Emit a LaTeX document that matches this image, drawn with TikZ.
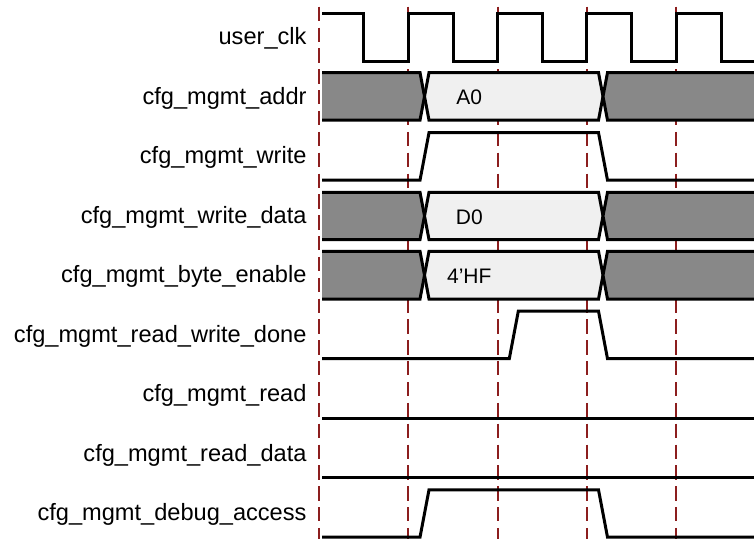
\documentclass[tikz,border=0pt]{standalone}
\usepackage{fontspec}
\setmainfont{Liberation Sans}
\definecolor{gridred}{RGB}{140,30,30}
\definecolor{busgray}{RGB}{136,136,136}
\definecolor{buslight}{RGB}{240,240,240}
\newcommand{\drawbus}[5]{%
  \pgfmathsetmacro\bmid{(#1+#2)/2}%
  \fill[busgray] (322,#1) -- (420,#1) -- (424.5,\bmid) -- (420,#2) -- (322,#2) -- cycle;
  \draw[busline] (322,#1) -- (420,#1) -- (424.5,\bmid) -- (420,#2) -- (322,#2);
  \filldraw[busline,fill=buslight] (429,#1) -- (598.5,#1) -- (603,\bmid) -- (598.5,#2) -- (429,#2) -- (424.5,\bmid) -- cycle;
  \fill[busgray] (754,#1) -- (607.5,#1) -- (603,\bmid) -- (607.5,#2) -- (754,#2) -- cycle;
  \draw[busline] (754,#1) -- (607.5,#1) -- (603,\bmid) -- (607.5,#2) -- (754,#2);
  \node[buslbl] (#5) at (469.3,{\bmid+8.3}) {#4};
}
\newcommand{\pulse}[4]{%
  \draw[wave] (322,#2) -- ({#3-4.5},#2) -- ({#3+4.5},#1) -- ({#4-4.5},#1) -- ({#4+4.5},#2) -- (754,#2);
}
\begin{document}
\begin{tikzpicture}[x=1pt,y=-1pt,
  siglbl/.style={anchor=base east,inner sep=0pt,font=\fontsize{23.6}{28}\selectfont},
  buslbl/.style={anchor=base,inner sep=0pt,font=\fontsize{21}{25}\selectfont},
  gridline/.style={draw=gridred,line width=1.8pt,dash pattern=on 14.3pt off 6.55pt},
  wave/.style={draw=black,line width=3pt,line join=miter},
  busline/.style={draw=black,line width=3pt,line join=miter,miter limit=2},
]
\useasboundingbox (0,0) rectangle (754,539);

% clock-edge guide lines
\foreach \gx in {319,408.3,497.8,586.8,676}
  \draw[gridline] (\gx,6.7) -- (\gx,539);

% signal names
\node[siglbl] (lclk)   at (306.7,44.95)  {user\_clk};
\node[siglbl] (laddr)  at (306.7,104.45) {cfg\_mgmt\_addr};
\node[siglbl] (lwr)    at (306.7,163.95) {cfg\_mgmt\_write};
\node[siglbl] (lwd)    at (306.7,223.45) {cfg\_mgmt\_write\_data};
\node[siglbl] (lbe)    at (306.7,282.95) {cfg\_mgmt\_byte\_enable};
\node[siglbl] (lrwd)   at (306.7,342.45) {cfg\_mgmt\_read\_write\_done};
\node[siglbl] (lrd)    at (306.7,401.95) {cfg\_mgmt\_read};
\node[siglbl] (lrdd)   at (306.7,461.45) {cfg\_mgmt\_read\_data};
\node[siglbl] (ldbg)   at (306.7,520.95) {cfg\_mgmt\_debug\_access};

% user_clk
\draw[wave] (322,13.7) -- (363.5,13.7) -- (363.5,61.2) -- (408.3,61.2) -- (408.3,13.7)
  -- (453,13.7) -- (453,61.2) -- (497.8,61.2) -- (497.8,13.7)
  -- (542.3,13.7) -- (542.3,61.2) -- (586.8,61.2) -- (586.8,13.7)
  -- (631.6,13.7) -- (631.6,61.2) -- (676,61.2) -- (676,13.7)
  -- (721.5,13.7) -- (721.5,61.2) -- (754,61.2);

% cfg_mgmt_addr
\drawbus{72.6}{120.2}{}{A0}{vaddr}
% cfg_mgmt_write
\pulse{132.7}{180.2}{424.5}{603}
% cfg_mgmt_write_data
\drawbus{192.3}{239.5}{}{D0}{vwd}
% cfg_mgmt_byte_enable
\drawbus{251.3}{299}{}{4’HF}{vbe}
% cfg_mgmt_read_write_done
\pulse{311.2}{358.7}{513.8}{603}
% cfg_mgmt_read
\draw[wave] (322,418.2) -- (754,418.2);
% cfg_mgmt_read_data
\draw[wave] (322,477.7) -- (754,477.7);
% cfg_mgmt_debug_access
\pulse{489.8}{537.2}{424.5}{603}
\end{tikzpicture}
\end{document}
